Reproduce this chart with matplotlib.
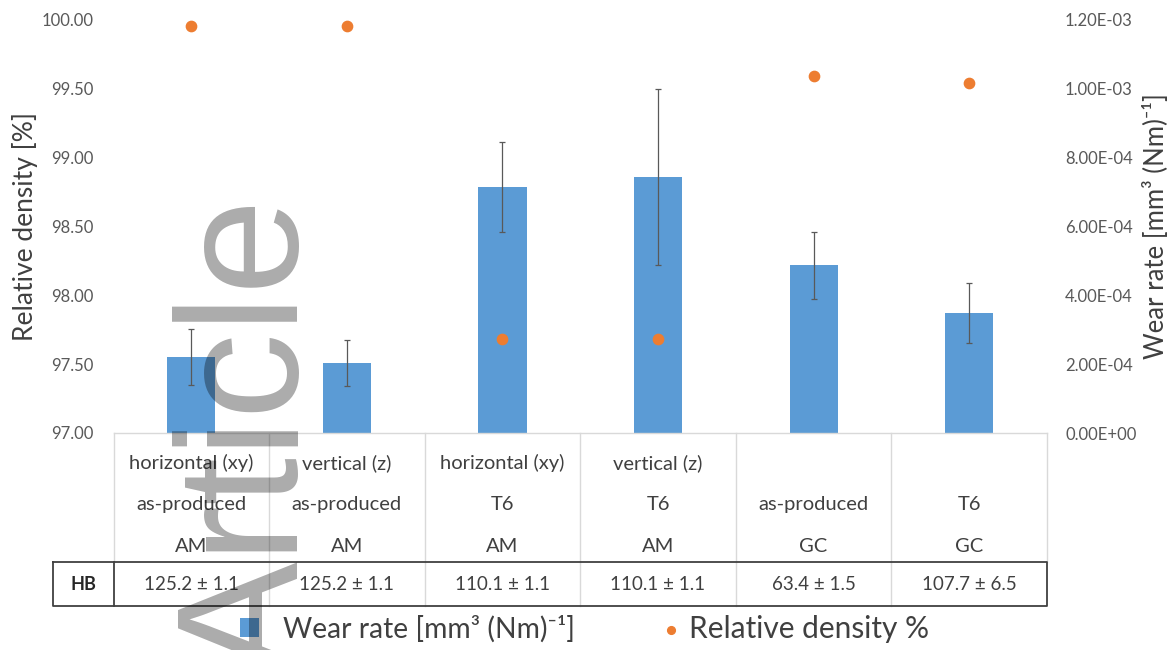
import numpy as np
import matplotlib
matplotlib.use("Agg")
import matplotlib.pyplot as plt
from matplotlib.ticker import FixedLocator, FuncFormatter

plt.rcParams['font.family'] = ['Lato', 'DejaVu Sans']

# data
orientation = ["horizontal (xy)", "vertical (z)", "horizontal (xy)", "vertical (z)", "", ""]
condition = ["as-produced", "as-produced", "T6", "T6", "as-produced", "T6"]
process = ["AM", "AM", "AM", "AM", "GC", "GC"]
hardness = ["125.2 ± 1.1", "125.2 ± 1.1", "110.1 ± 1.1", "110.1 ± 1.1", "63.4 ± 1.5", "107.7 ± 6.5"]
wear_rate = [2.21e-4, 2.03e-4, 7.15e-4, 7.44e-4, 4.87e-4, 3.49e-4]
wear_err = [0.82e-4, 0.67e-4, 1.30e-4, 2.55e-4, 0.98e-4, 0.87e-4]
rel_density = [99.96, 99.96, 97.68, 97.68, 99.59, 99.54]

BLUE = '#5B9BD5'
ORANGE = '#ED7D31'
TXT = '#404040'
TICK = '#595959'
GRID = '#D9D9D9'
WEAR_LABEL = 'Wear rate [mm³ (Nm)⁻¹]'

W, H = 1168, 650
fig = plt.figure(figsize=(W / 100, H / 100), dpi=100)
# axes box in pixels: x 113.5..1047, y 20..433
ax = fig.add_axes([113.5 / W, 1 - 433 / H, (1047 - 113.5) / W, (433 - 20) / H])
ax2 = ax.twinx()

x = np.arange(len(condition))

# bars on the right axis (wear rate)
bars = ax2.bar(x, wear_rate, width=0.31, color=BLUE, zorder=2, label=WEAR_LABEL)
ax2.errorbar(x, wear_rate, yerr=wear_err, fmt='none', ecolor='#595959',
             elinewidth=0.9, capsize=2.5, capthick=0.9, zorder=3)
ax2.set_ylim(0, 1.2e-3)
ax2.yaxis.set_major_locator(FixedLocator(np.arange(0, 1.21e-3, 2e-4)))
ax2.yaxis.set_major_formatter(FuncFormatter(lambda v, p: f"{v:.2E}"))

# dots on the left axis (relative density)
ax.set_zorder(ax2.get_zorder() + 1)
ax.patch.set_visible(False)
dots = ax.scatter(x, rel_density, s=55, color=ORANGE, zorder=4, clip_on=False,
                  label='Relative density %')
ax.set_ylim(97, 100)
ax.set_xlim(-0.5, len(x) - 0.5)
ax.yaxis.set_major_locator(FixedLocator(np.arange(97, 100.01, 0.5)))
ax.yaxis.set_major_formatter(FuncFormatter(lambda v, p: f"{v:.2f}"))
ax.set_xticks([])

for a in (ax, ax2):
    for s in a.spines.values():
        s.set_visible(False)
    a.tick_params(axis='y', length=0, labelsize=12, labelcolor=TICK)
ax.tick_params(axis='y', pad=14.5)
ax2.tick_params(axis='y', pad=13)

ax.set_ylabel('Relative density [%]', fontsize=19, color=TXT)
ax.yaxis.set_label_coords(-0.081, 0.5)
ax2.set_ylabel(WEAR_LABEL, fontsize=18.5, color=TXT)
ax2.yaxis.set_label_coords(1.103, 0.5)

# category table under the axis
tr = ax.get_xaxis_transform()
row_y = [-0.0726, -0.174, -0.276]
hb_y = -0.368
box_top, box_bot = -0.312, -0.419
box_left = -0.889

ax.plot([-0.5, len(x) - 0.5], [0, 0], transform=tr, color=GRID, lw=1, clip_on=False)
for b in np.arange(-0.5, len(x), 1.0):
    ax.plot([b, b], [0, box_top], transform=tr, color=GRID, lw=1, clip_on=False)
    if -0.5 < b < len(x) - 0.5:
        ax.plot([b, b], [box_top, box_bot], transform=tr, color=GRID, lw=1, clip_on=False)

for i in x:
    for yy, lab in zip(row_y, (orientation[i], condition[i], process[i])):
        ax.text(i, yy, lab, transform=tr, ha='center', va='center',
                fontsize=14.5, color=TXT)
    ax.text(i, hb_y, hardness[i], transform=tr, ha='center', va='center',
            fontsize=13.5, color=TXT)

# HB box
bx = [box_left, len(x) - 0.5, len(x) - 0.5, box_left, box_left]
by = [box_top, box_top, box_bot, box_bot, box_top]
ax.plot(bx, by, transform=tr, color='#404040', lw=1.3, clip_on=False)
ax.plot([-0.5, -0.5], [box_top, box_bot], transform=tr, color='#404040', lw=1.3, clip_on=False)
ax.text((box_left - 0.5) / 2, hb_y, 'HB', transform=tr, ha='center', va='center',
        fontsize=13, fontweight='bold', color='#262626')

# legend, one entry each so the gaps can follow the reference
leg_y = 1 - 629 / H
fig.legend(handles=[bars], loc='center left', bbox_to_anchor=(240 / W, leg_y),
           frameon=False, fontsize=20.3, labelcolor=TXT, borderpad=0, borderaxespad=0,
           handlelength=0.68, handleheight=0.68, handletextpad=0.85)
fig.legend(handles=[dots], loc='center left', bbox_to_anchor=(662 / W, leg_y),
           frameon=False, fontsize=21.5, labelcolor=TXT, borderpad=0, borderaxespad=0,
           handlelength=0.62, handletextpad=0.3, markerscale=0.75)

# "Article" watermark
fig.text(298 / W, 1 - 676 / H, 'Article', rotation=90, rotation_mode='anchor',
         ha='left', va='baseline', fontsize=124, family='Liberation Sans',
         color='k', alpha=0.33, zorder=10)

fig.savefig('out.png', dpi=100)
